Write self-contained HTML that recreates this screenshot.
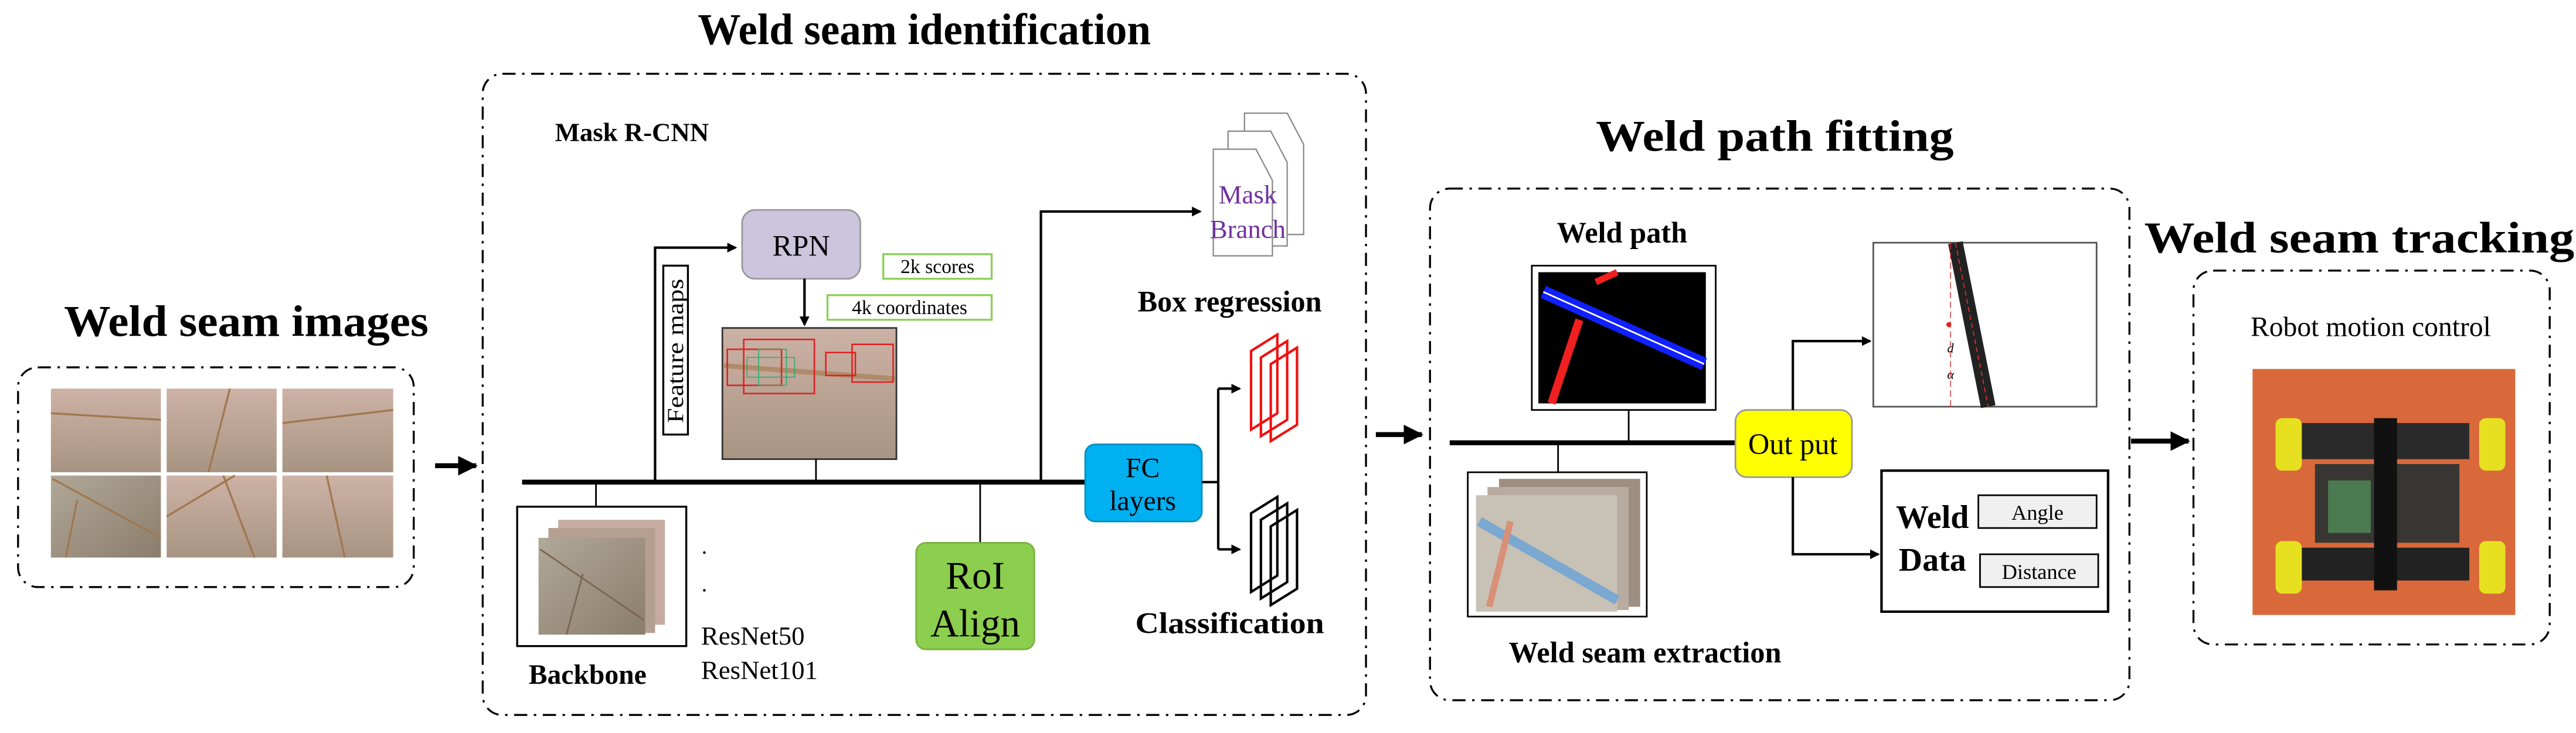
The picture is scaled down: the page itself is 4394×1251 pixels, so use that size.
<!DOCTYPE html>
<html><head><meta charset="utf-8"><style>
html,body{margin:0;padding:0;background:#fff;overflow:hidden}
svg{display:block}
text{font-family:"Liberation Serif","Times New Roman",serif}
.t{font-weight:bold;fill:#000}
</style></head><body>
<svg width="4394" height="1251" viewBox="0 0 1569 447" preserveAspectRatio="none" xmlns="http://www.w3.org/2000/svg" font-family="Liberation Serif, serif">
<defs>
<marker id="a" markerWidth="6" markerHeight="6" refX="5" refY="3" orient="auto" markerUnits="userSpaceOnUse"><path d="M0,0 L6,3 L0,6z" fill="#000"/></marker>
<marker id="b" markerWidth="12" markerHeight="12" refX="11" refY="6" orient="auto" markerUnits="userSpaceOnUse"><path d="M0,0 L12,6 L0,12z" fill="#000"/></marker>
<linearGradient id="w" x1="0" y1="0" x2="0" y2="1"><stop offset="0" stop-color="#cdb2a6"/><stop offset="1" stop-color="#a89482"/></linearGradient>
<linearGradient id="w2" x1="0" y1="0" x2="1" y2="1"><stop offset="0" stop-color="#b0a898"/><stop offset="1" stop-color="#8c7d6c"/></linearGradient>
</defs>
<g fill="none" stroke="#000" stroke-width="1.2" stroke-dasharray="8,4,1.5,4">
<rect x="11" y="224" width="241" height="134" rx="12"/>
<rect x="294" y="45" width="538" height="391" rx="12"/>
<rect x="871" y="115" width="426" height="312" rx="12"/>
<rect x="1336" y="165" width="217" height="228" rx="12"/>
</g>
<text class="t" x="150" y="205" font-size="27" text-anchor="middle" textLength="222" lengthAdjust="spacingAndGlyphs">Weld seam images</text>
<text class="t" x="563" y="27" font-size="27" text-anchor="middle" textLength="276" lengthAdjust="spacingAndGlyphs">Weld seam identification</text>
<text class="t" x="1081" y="92" font-size="27" text-anchor="middle" textLength="218" lengthAdjust="spacingAndGlyphs">Weld path fitting</text>
<text class="t" x="1437" y="154" font-size="27" text-anchor="middle" textLength="262" lengthAdjust="spacingAndGlyphs">Weld  seam tracking</text>
<!-- seam images -->
<g stroke="#a07850" stroke-width="1.2" fill="none">
<rect x="31" y="237" width="67" height="51" fill="url(#w)" stroke="none"/><rect x="101.5" y="237" width="67" height="51" fill="url(#w)" stroke="none"/><rect x="172" y="237" width="67.5" height="51" fill="url(#w)" stroke="none"/>
<rect x="31" y="290" width="67" height="50" fill="url(#w2)" stroke="none"/><rect x="101.5" y="290" width="67" height="50" fill="url(#w)" stroke="none"/><rect x="172" y="290" width="67.5" height="50" fill="url(#w)" stroke="none"/>
<path d="M31,252 L98,256"/><path d="M140,237 L127,288"/><path d="M172,258 L239.5,250"/><path d="M32,292 L98,328 M47,305 L40,340"/><path d="M101.5,315 L143,290 M136,290 L155,340"/><path d="M199,290 L210,340"/>
</g>
<line x1="265" y1="284" x2="290" y2="284" stroke="#000" stroke-width="3" marker-end="url(#b)"/>
<text class="t" x="338" y="86" font-size="16">Mask R-CNN</text>
<!-- bus -->
<line x1="318" y1="294" x2="662" y2="294" stroke="#000" stroke-width="3"/>
<line x1="363" y1="294" x2="363" y2="309" stroke="#000"/>
<rect x="315" y="309" width="103" height="85" fill="#fff" stroke="#000" stroke-width="1.2"/>
<rect x="340" y="317" width="65" height="64" fill="#c7aaa0"/><rect x="334" y="322" width="65" height="64" fill="#b59f90"/><rect x="328" y="328" width="65" height="59" fill="url(#w2)"/>
<path d="M329,335 L392,378 M345,387 L355,350" stroke="#7d6650" fill="none"/>
<text class="t" x="322" y="417" font-size="17">Backbone</text>
<text x="427" y="393" font-size="16">ResNet50</text><text x="427" y="414" font-size="16">ResNet101</text>
<circle cx="429" cy="337" r="0.8"/><circle cx="429" cy="360" r="0.8"/>
<path d="M399,294 L399,151 L448,151" fill="none" stroke="#000" stroke-width="1.5" marker-end="url(#a)"/>
<rect x="404" y="162" width="15" height="103" fill="#fff" stroke="#000" stroke-width="1.2"/>
<text x="0" y="0" font-size="14" transform="translate(416,258) rotate(-90)" textLength="88" lengthAdjust="spacingAndGlyphs">Feature maps</text>
<rect x="452" y="128" width="72" height="42" rx="8" fill="#cdc4de" stroke="#999"/>
<text x="488" y="156" font-size="18" text-anchor="middle">RPN</text>
<line x1="490" y1="170" x2="490" y2="198" stroke="#000" stroke-width="1.5" marker-end="url(#a)"/>
<rect x="538" y="155" width="66" height="15" fill="#fff" stroke="#8cd058" stroke-width="1.2"/><text x="571" y="166.5" font-size="12" text-anchor="middle">2k scores</text>
<rect x="504" y="180" width="100" height="15" fill="#fff" stroke="#8cd058" stroke-width="1.2"/><text x="554" y="191.5" font-size="12" text-anchor="middle">4k coordinates</text>
<rect x="440" y="200" width="106" height="80" fill="url(#w)" stroke="#333"/>
<path d="M441,223 L545,231" stroke="#b08a6a" stroke-width="3" fill="none"/>
<g fill="none" stroke="#e02020" stroke-width="0.9"><rect x="453" y="207" width="43" height="33"/><rect x="443" y="213" width="33" height="22"/><rect x="519" y="210" width="25" height="23"/><rect x="503" y="215" width="18" height="14"/></g>
<g fill="none" stroke="#30b070" stroke-width="0.6"><rect x="462" y="213" width="17" height="22"/><rect x="455" y="218" width="29" height="12"/></g>
<line x1="497" y1="280" x2="497" y2="294" stroke="#000"/>
<line x1="597" y1="294" x2="597" y2="331" stroke="#000"/>
<rect x="558" y="331" width="72" height="65" rx="6" fill="#8cce4e" stroke="#7ab040"/>
<text x="594" y="359" font-size="24" text-anchor="middle">RoI</text><text x="594" y="388" font-size="24" text-anchor="middle">Align</text>
<path d="M634,294 L634,129 L731,129" fill="none" stroke="#000" stroke-width="1.5" marker-end="url(#a)"/>
<g fill="#fff" stroke="#888" stroke-width="0.8"><path d="M758,69 L784,69 L794,88 L794,143 L758,143z"/><path d="M748,80 L774,80 L784,99 L784,150 L748,150z"/><path d="M739,91 L765,91 L775,110 L775,156 L739,156z"/></g>
<text x="760" y="124" font-size="16" fill="#7030a0" text-anchor="middle">Mask</text><text x="760" y="145" font-size="16" fill="#7030a0" text-anchor="middle">Branch</text>
<text class="t" x="749" y="190" font-size="18" text-anchor="middle" textLength="112" lengthAdjust="spacingAndGlyphs">Box regression</text>
<text class="t" x="749" y="386" font-size="18" text-anchor="middle" textLength="115" lengthAdjust="spacingAndGlyphs">Classification</text>
<rect x="661" y="271" width="71" height="47" rx="6" fill="#00b0f0" stroke="#0090c0"/>
<text x="696" y="291" font-size="17" text-anchor="middle">FC</text><text x="696" y="311" font-size="17" text-anchor="middle">layers</text>
<path d="M732,294 L742,294 M742,237 L742,335" stroke="#000" stroke-width="1.5"/>
<line x1="742" y1="237" x2="755" y2="237" stroke="#000" stroke-width="1.5" marker-end="url(#a)"/>
<line x1="742" y1="335" x2="755" y2="335" stroke="#000" stroke-width="1.5" marker-end="url(#a)"/>
<g fill="none" stroke="#f01010" stroke-width="1.5"><path d="M762,214 L778,204 L778,252 L762,262z"/><path d="M768,218 L784,208 L784,256 L768,266z"/><path d="M774,222 L790,212 L790,259 L774,269z"/></g>
<g fill="none" stroke="#000" stroke-width="1.5"><path d="M762,313 L778,303 L778,351 L762,361z"/><path d="M768,317 L784,307 L784,355 L768,365z"/><path d="M774,321 L790,311 L790,359 L774,369z"/></g>
<line x1="838" y1="265" x2="866" y2="265" stroke="#000" stroke-width="3" marker-end="url(#b)"/>
<!-- weld path fitting -->
<text class="t" x="988" y="148" font-size="18" text-anchor="middle">Weld path</text>
<rect x="933" y="162" width="112" height="88" fill="#fff" stroke="#000"/>
<rect x="937" y="166" width="102" height="80" fill="#000"/>
<path d="M940,178 L1038,222" stroke="#1020ff" stroke-width="8"/><path d="M940,178 L1038,222" stroke="#fff" stroke-width="1"/>
<path d="M962,195 L945,246" stroke="#f02020" stroke-width="5"/><path d="M972,172 L985,166" stroke="#f02020" stroke-width="4"/>
<line x1="883" y1="270" x2="1060" y2="270" stroke="#000" stroke-width="3"/>
<line x1="992" y1="250" x2="992" y2="270" stroke="#000"/>
<line x1="949" y1="270" x2="949" y2="289" stroke="#000"/>
<rect x="894" y="288" width="109" height="88" fill="#fff" stroke="#000"/>
<rect x="913" y="292" width="86" height="78" fill="#9e8e80"/><rect x="906" y="297" width="86" height="75" fill="#b8aba0"/><rect x="899" y="302" width="86" height="71" fill="#c8c2b6"/>
<path d="M901,318 L985,366" stroke="#7aa8d0" stroke-width="6"/><path d="M920,318 L907,370" stroke="#d89078" stroke-width="4"/>
<text class="t" x="1002" y="404" font-size="18" text-anchor="middle" textLength="166" lengthAdjust="spacingAndGlyphs">Weld seam extraction</text>
<rect x="1057" y="250" width="71" height="41" rx="7" fill="#ffff00" stroke="#999"/>
<text x="1092" y="277" font-size="18" text-anchor="middle">Out put</text>
<path d="M1092,250 L1092,208 L1139,208" fill="none" stroke="#000" stroke-width="1.5" marker-end="url(#a)"/>
<path d="M1092,291 L1092,338 L1144,338" fill="none" stroke="#000" stroke-width="1.5" marker-end="url(#a)"/>
<rect x="1141" y="148" width="136" height="100" fill="#fff" stroke="#555"/>
<path d="M1191,148 L1211,248" stroke="#222" stroke-width="9"/><path d="M1191,148 L1211,248" stroke="#e03030" stroke-width="0.6" stroke-dasharray="3,2"/>
<line x1="1188" y1="148" x2="1188" y2="248" stroke="#e03030" stroke-width="0.5" stroke-dasharray="4,2"/>
<circle cx="1187" cy="198" r="1.5" fill="#e02020"/><text x="1186" y="215" font-size="8" font-style="italic">d</text><text x="1186" y="231" font-size="8" font-style="italic">α</text>
<rect x="1146" y="287" width="138" height="86" fill="#fff" stroke="#000" stroke-width="1.5"/>
<text class="t" x="1177" y="322" font-size="20" text-anchor="middle">Weld</text><text class="t" x="1177" y="348" font-size="20" text-anchor="middle">Data</text>
<rect x="1205" y="302" width="72" height="20" fill="#f0f0f0" stroke="#000"/><text x="1241" y="317" font-size="13" text-anchor="middle">Angle</text>
<rect x="1206" y="338" width="72" height="20" fill="#f0f0f0" stroke="#000"/><text x="1242" y="353" font-size="13" text-anchor="middle">Distance</text>
<line x1="1298" y1="269" x2="1333" y2="269" stroke="#000" stroke-width="3" marker-end="url(#b)"/>
<text x="1444" y="205" font-size="17" text-anchor="middle">Robot motion control</text>
<rect x="1372" y="225" width="160" height="150" fill="#d9683a"/>
<rect x="1400" y="258" width="104" height="22" fill="#2a2a2a"/><rect x="1410" y="283" width="88" height="48" fill="#383632"/><rect x="1418" y="293" width="26" height="32" fill="#4a7a50"/><rect x="1400" y="334" width="104" height="20" fill="#222"/><rect x="1446" y="255" width="14" height="105" fill="#111"/>
<g fill="#e6e020"><rect x="1386" y="255" width="16" height="32" rx="4"/><rect x="1510" y="255" width="16" height="32" rx="4"/><rect x="1386" y="330" width="16" height="32" rx="4"/><rect x="1510" y="330" width="16" height="32" rx="4"/></g>
</svg>
</body></html>
